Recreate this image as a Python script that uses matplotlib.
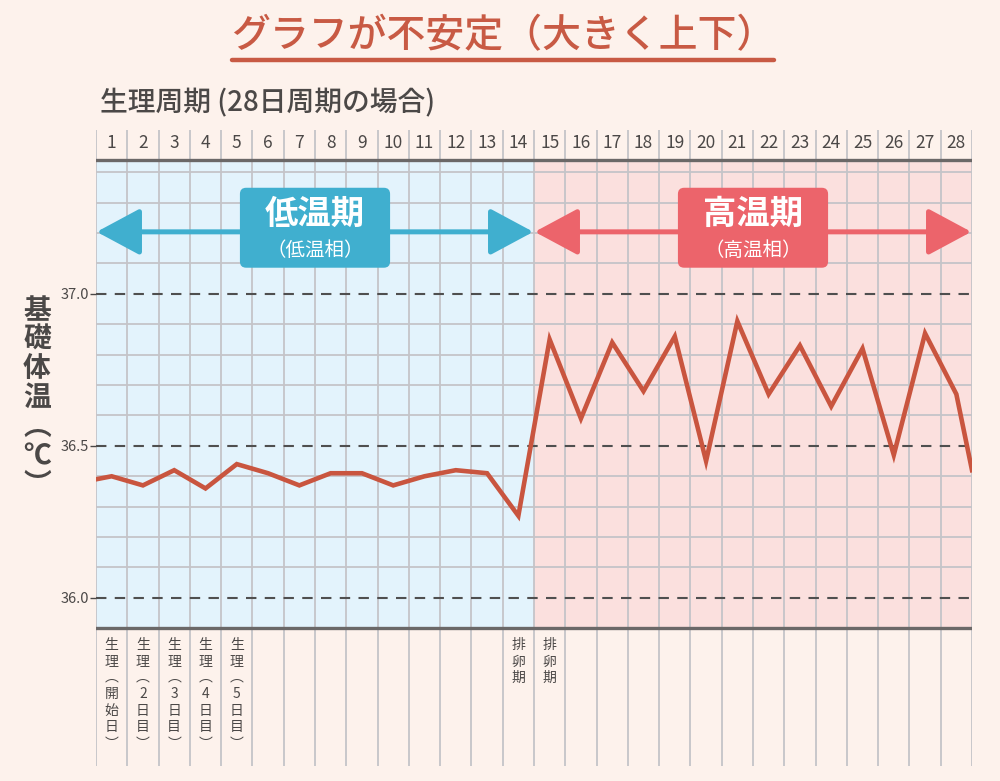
import matplotlib.pyplot as plt
from matplotlib.patches import FancyBboxPatch, Rectangle

plt.rcParams['font.family'] = ['Noto Sans CJK JP', 'DejaVu Sans']

# basal body temperature, one value per cycle day
days = list(range(1, 29))
temps = [36.40, 36.37, 36.42, 36.36, 36.44, 36.41, 36.37, 36.41, 36.41, 36.37,
         36.40, 36.42, 36.41, 36.27, 36.85, 36.59, 36.84, 36.68, 36.86, 36.45,
         36.91, 36.67, 36.83, 36.63, 36.82, 36.47, 36.87, 36.67]
start_temp = 36.39   # value at the left edge of the chart
end_temp = 36.42     # value at the right edge of the chart

ytick_values = [36.0, 36.5, 37.0]
ytick_labels = ['36.0', '36.5', '37.0']

day_notes = {1: '生\n理\n︵\n開\n始\n日\n︶',
             2: '生\n理\n︵\n2\n日\n目\n︶',
             3: '生\n理\n︵\n3\n日\n目\n︶',
             4: '生\n理\n︵\n4\n日\n目\n︶',
             5: '生\n理\n︵\n5\n日\n目\n︶',
             14: '排\n卵\n期',
             15: '排\n卵\n期'}

phases = [('低温期', '（低温相）', 0.5, 14.5, '#e3f3fc', '#40afcf'),
          ('高温期', '（高温相）', 14.5, 28.5, '#fbe0de', '#ec646b')]

bg = '#fdf2ec'
text_col = '#4b4847'
grid_col = '#c4c4c8'
line_col = '#c9553f'

fig = plt.figure(figsize=(10, 7.81), dpi=100, facecolor=bg)
ax = fig.add_axes([0.096, (781 - 766) / 781, 0.876, (766 - 130) / 781])
ax.set_facecolor('none')
ax.set_xlim(0.5, 28.5)
ax.set_ylim(35.447, 37.539)
for s in ax.spines.values():
    s.set_visible(False)

grid_bottom, grid_top = 35.901, 37.441

# phase backgrounds
for name, sub, x0, x1, fill, accent in phases:
    ax.add_patch(Rectangle((x0, grid_bottom), x1 - x0, grid_top - grid_bottom,
                           facecolor=fill, edgecolor='none', zorder=0))

# grid
for k in range(1, 16):
    yv = round(35.9 + 0.1 * k, 1)
    if yv in ytick_values:
        continue
    ax.plot([0.5, 28.5], [yv, yv], color=grid_col, lw=1.3, zorder=1)
for b in range(29):
    ax.axvline(b + 0.5, color=grid_col, lw=1.3, zorder=1)
for yv in ytick_values:
    ax.plot([0.5, 28.5], [yv, yv], color='#4f4f4f', lw=1.5, dashes=(5, 4), zorder=2)
ax.plot([0.5, 28.5], [grid_top, grid_top], color='#6b6868', lw=2.4, zorder=3)
ax.plot([0.5, 28.5], [grid_bottom, grid_bottom], color='#6b6868', lw=2.4, zorder=3)

# temperature line
ax.plot([0.5] + days + [28.5], [start_temp] + temps + [end_temp],
        color=line_col, lw=3.3, solid_joinstyle='miter', zorder=5)

# y ticks
ax.set_xticks([])
ax.set_yticks(ytick_values)
ax.set_yticklabels(ytick_labels, fontsize=10.5, color=text_col)
ax.tick_params(axis='y', length=4, width=1, color=text_col, pad=1)

# day numbers and notes
for d in days:
    ax.text(d, 37.495, str(d), ha='center', va='center', fontsize=12.5,
            color=text_col)
    if d in day_notes:
        ax.text(d, 35.868, day_notes[d], ha='center', va='top', fontsize=10,
                color=text_col, linespacing=1.22)

# phase arrows with labels
arrow_y = 37.204
for name, sub, x0, x1, fill, accent in phases:
    ax.annotate('', xy=(x1, arrow_y), xytext=(x0, arrow_y),
                arrowprops=dict(arrowstyle='<|-|>,head_length=2.7,head_width=1.45',
                                mutation_scale=10, lw=3.6, color=accent,
                                shrinkA=0.5, shrinkB=0.5),
                zorder=6)
    cx = (x0 + x1) / 2
    w = 4.8
    ax.add_patch(FancyBboxPatch((cx - w / 2, 37.086), w, 0.263,
                                boxstyle='round,pad=0,rounding_size=0.2',
                                mutation_aspect=0.103,
                                facecolor=accent, edgecolor='none', zorder=7))
    ax.text(cx, 37.262, name, ha='center', va='center', fontsize=24,
            fontweight='bold', color='white', zorder=8)
    ax.text(cx, 37.142, sub, ha='center', va='center', fontsize=14,
            color='white', zorder=8)

# titles
fig.text(0.503, 1 - 36 / 781, 'グラフが不安定（大きく上下）', ha='center',
         va='center', fontsize=28, fontweight='medium', color='#c85a44')
fig.add_artist(plt.Line2D([0.232, 0.774], [1 - 60 / 781, 1 - 60 / 781],
                          color='#c85a44', lw=3.2, solid_capstyle='round'))
fig.text(0.1, 1 - 103 / 781, '生理周期 (28日周期の場合)', ha='left', va='center',
         fontsize=20, fontweight='medium', color=text_col)
fig.text(0.037, 1 - 398 / 781, '基\n礎\n体\n温\n︵\n℃\n︶', ha='center',
         va='center', fontsize=20, fontweight='bold', color=text_col,
         linespacing=1.05)

fig.savefig('out.png', dpi=100, facecolor=bg)
